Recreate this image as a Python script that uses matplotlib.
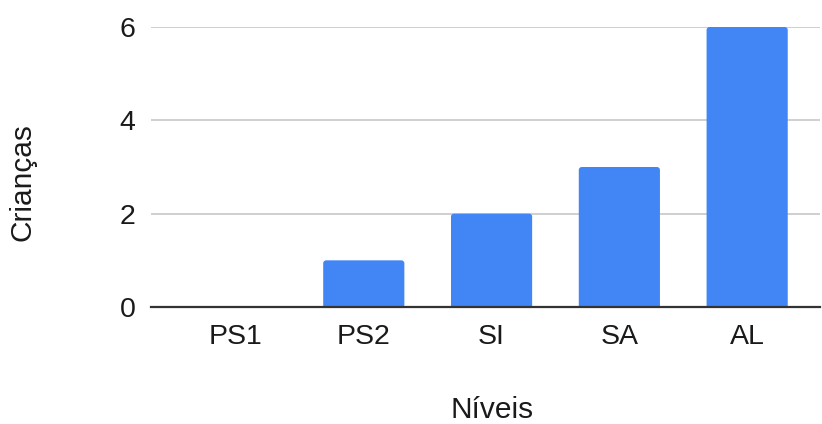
import matplotlib
matplotlib.use("Agg")
import matplotlib.pyplot as plt
from matplotlib.patches import FancyBboxPatch

categories = ["PS1", "PS2", "SI", "SA", "AL"]
values = [0, 1, 2, 3, 6]
yticks = [0, 2, 4, 6]

plt.rcParams['font.family'] = ['Liberation Sans', 'DejaVu Sans']

fig = plt.figure(figsize=(8.22, 4.24), dpi=100)
ax = fig.add_axes([151/822, 1-307/424, (820-151)/822, (307-27)/424])

x = list(range(len(categories)))
width = 0.635
bars = ax.bar(x, values, width=width, color="#4285F4", zorder=2)
# replace with slightly rounded-top bars
for b, v in zip(bars, values):
    b.set_visible(False)
    if v <= 0:
        continue
    x0 = b.get_x()
    p = FancyBboxPatch((x0, -0.3), width, v + 0.3,
                       boxstyle="round,pad=0,rounding_size=0.024",
                       mutation_aspect=2.6,
                       facecolor="#4285F4", edgecolor="none", zorder=2,
                       clip_on=True)
    ax.add_patch(p)

ax.set_xlim(-0.665, 4.57)
ax.set_ylim(0, 6)
ax.set_yticks(yticks)
ax.set_xticks(x)
ax.set_xticklabels(categories)
ax.grid(axis='y', color="#cccccc", linewidth=1.3, zorder=0)
ax.set_axisbelow(True)
for s in ['top', 'right', 'left']:
    ax.spines[s].set_visible(False)
ax.spines['bottom'].set_color("#333333")
ax.spines['bottom'].set_linewidth(1.6)
ax.spines['bottom'].set_zorder(3)
ax.tick_params(axis='both', length=0, labelsize=20.5, labelcolor="#1a1a1a")
ax.tick_params(axis='x', pad=12)
ax.tick_params(axis='y', pad=11)

fig.text(492/822, 1-410/424, "Níveis", ha='center', va='center', fontsize=21.5, color="#1a1a1a")
fig.text(23/822, 1-182/424, "Crianças", ha='center', va='center', rotation=90, fontsize=21.5, color="#1a1a1a")

fig.savefig("out.png", dpi=100, facecolor="white")
